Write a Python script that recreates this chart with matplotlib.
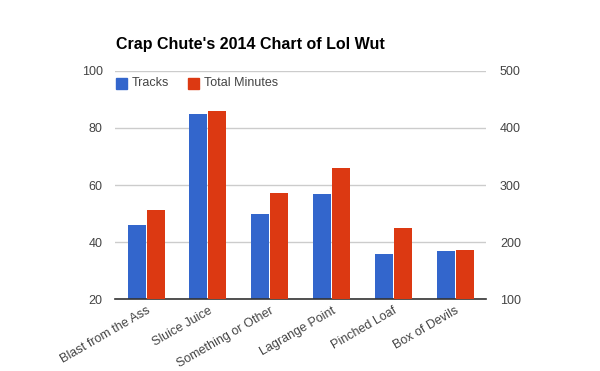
import matplotlib.pyplot as plt
import numpy as np
from matplotlib.patches import Rectangle

plt.rcParams['font.family'] = ['Liberation Sans', 'DejaVu Sans']

albums = ["Blast from the Ass", "Sluice Juice", "Something or Other",
          "Lagrange Point", "Pinched Loaf", "Box of Devils"]
tracks = [46, 85, 50, 57, 36, 37]
minutes = [257, 430, 287, 330, 225, 187]

blue = '#3366cc'
red = '#dc3912'
grey = '#444444'

fig = plt.figure(figsize=(6, 3.71), dpi=100)
ax = fig.add_axes([0.192, 0.193, 0.618, 0.616])
ax2 = ax.twinx()

x = np.arange(len(albums))
w = 0.29
ax.bar(x - w / 2 - 0.008, tracks, width=w, color=blue, zorder=3)
ax2.bar(x + w / 2 + 0.008, minutes, width=w, color=red, zorder=3)

ax.set_xlim(-0.5, len(albums) - 0.5)
ax.set_ylim(20, 100)
ax2.set_ylim(100, 500)
ax.set_yticks([20, 40, 60, 80, 100])
ax2.set_yticks([100, 200, 300, 400, 500])

ax.yaxis.grid(True, color='#cccccc', linewidth=1)
ax.set_axisbelow(True)
for a in (ax, ax2):
    for s in a.spines.values():
        s.set_visible(False)
    a.tick_params(length=0, labelsize=9, labelcolor=grey)
ax.spines['bottom'].set_visible(True)
ax.spines['bottom'].set_color('#333333')
ax.spines['bottom'].set_linewidth(1.2)
ax.spines['bottom'].set_zorder(5)
ax.tick_params(axis='y', pad=9)
ax2.tick_params(axis='y', pad=10)

ax.set_xticks(x)
ax.set_xticklabels(albums, rotation=30, ha='right', rotation_mode='anchor', fontsize=9, color=grey)
ax.tick_params(axis='x', pad=4)

fig.text(0.193, 0.88, "Crap Chute's 2014 Chart of Lol Wut", fontsize=11.5,
         fontweight='bold', color='black', va='center')

# legend
ly = 0.776
for lx, col, lab in [(0.193, blue, "Tracks"), (0.313, red, "Total Minutes")]:
    fig.patches.append(Rectangle((lx, ly - 0.015), 0.0183, 0.0296, color=col,
                                 transform=fig.transFigure, figure=fig))
    fig.text(lx + 0.027, ly, lab, fontsize=9, color=grey, va='center')

fig.savefig('out.png', dpi=100)
